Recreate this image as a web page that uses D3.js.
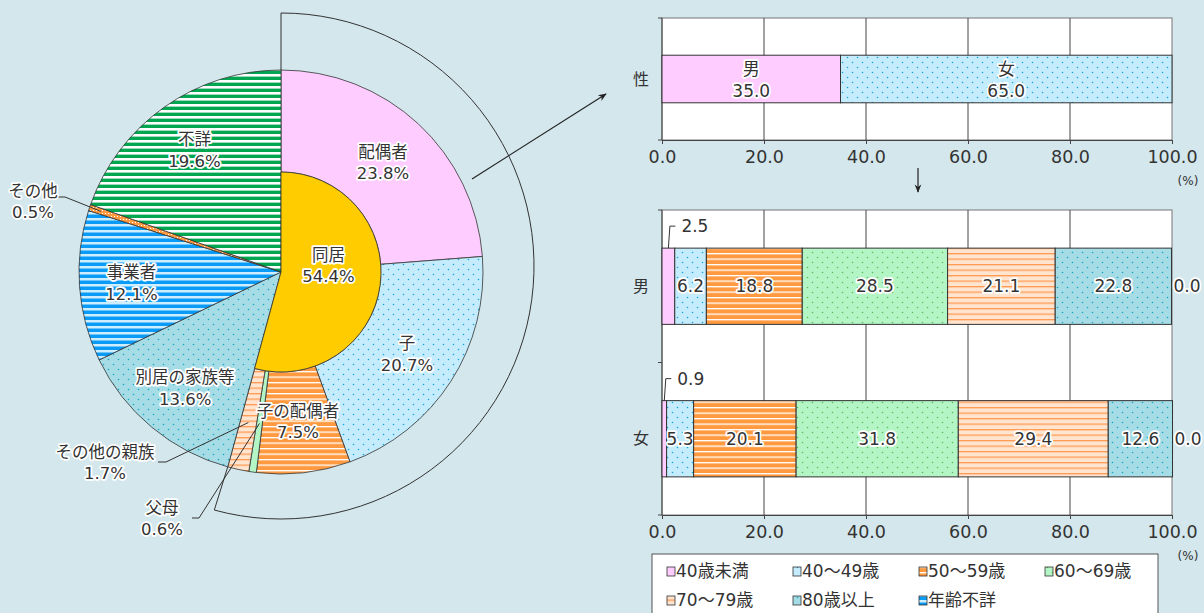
<!DOCTYPE html>
<html>
<head>
<meta charset="utf-8">
<script src="https://cdn.jsdelivr.net/npm/d3@7"></script>
<style>
body{margin:0;background:#d3e7ec;overflow:hidden;}
text{font-family:"DejaVu Sans","Noto Sans CJK JP",sans-serif;fill:#333;}
.halo{paint-order:stroke;stroke:#fff;stroke-width:3.5px;stroke-linejoin:round;}
</style>
</head>
<body>
<script>
// 主たる介護者の続柄
var pieLabels = ["配偶者","子","子の配偶者","父母","その他の親族","別居の家族等","事業者","その他","不詳"];
var pieValues = [23.8,20.7,7.5,0.6,1.7,13.6,12.1,0.5,19.6];
var pieFills  = ["pink","dotBlue","lineOrange","green","linePeach","dotTeal","lineBlue","hatchOrange","lineGreen"];
var livingLabel = "同居", livingValue = 54.4;
var livingCount = 5; // 最初の5区分が同居

// 性別
var sexLabels = ["男","女"];
var sexValues = [35.0,65.0];
var sexFills = ["pink","dotBlue"];

// 年齢
var ageLabels = ["40歳未満","40～49歳","50～59歳","60～69歳","70～79歳","80歳以上","年齢不詳"];
var ageFills = ["pink","dotBlue","lineOrange","dotGreen","linePeach","dotTeal","lineBlue"];
var maleAge   = [2.5,6.2,18.8,28.5,21.1,22.8,0.0];
var femaleAge = [0.9,5.3,20.1,31.8,29.4,12.6,0.0];
var xTicks = [0,20,40,60,80,100];

var width=1204, height=613;
var svg = d3.select("body").append("svg").attr("width",width).attr("height",height);
var defs = svg.append("defs");

function solid(id,c){
  var p=defs.append("pattern").attr("id",id).attr("patternUnits","userSpaceOnUse").attr("width",4).attr("height",4);
  p.append("rect").attr("width",4).attr("height",4).attr("fill",c);
}
function lines(id,bg,fg,period,lw){
  var p=defs.append("pattern").attr("id",id).attr("patternUnits","userSpaceOnUse").attr("width",10).attr("height",period);
  p.append("rect").attr("width",10).attr("height",period).attr("fill",bg);
  p.append("rect").attr("y",0).attr("width",10).attr("height",lw).attr("fill",fg);
}
function dots(id,bg,fg,s){
  var p=defs.append("pattern").attr("id",id).attr("patternUnits","userSpaceOnUse").attr("width",s).attr("height",s);
  p.append("rect").attr("width",s).attr("height",s).attr("fill",bg);
  p.append("circle").attr("cx",s/4).attr("cy",s/4).attr("r",0.8).attr("fill",fg);
  p.append("circle").attr("cx",s*3/4).attr("cy",s*3/4).attr("r",0.8).attr("fill",fg);
}
solid("pink","#ffccff");
solid("green","#b3f5c4");
dots("dotBlue","#c4ecfc","#1aa3dc",10);
dots("dotTeal","#a6dce5","#14a6c6",10);
dots("dotGreen","#b3f5c4","#5cbb5c",10);
lines("lineOrange","#ff9a40","#ffffff",5.5,1.3);
lines("linePeach","#ffe4cf","#ff9a52",5.5,1.3);
lines("lineBlue","#0a9bf6","#cdeeff",6,2.5);
lines("lineGreen","#00a650","#ffffff",6,2.6);
(function(){
  var p=defs.append("pattern").attr("id","hatchOrange").attr("patternUnits","userSpaceOnUse").attr("width",3).attr("height",3);
  p.append("rect").attr("width",3).attr("height",3).attr("fill","#ff9a40");
  p.append("rect").attr("x",1).attr("y",1).attr("width",1).attr("height",1).attr("fill","#fff");
})();

function label(g,x,y,lines_,size){
  var t=g.append("text").attr("class","halo").attr("x",x).attr("y",y)
    .attr("text-anchor","middle").style("font-size",(size||16.5)+"px");
  lines_.forEach(function(s,i){
    t.append("tspan").attr("x",x).attr("dy",i==0?"0.35em":"1.3em").text(s);
  });
  return t;
}

// ---------- pie ----------
var cx=281, cy=272, R=202, r0=100;
var pg = svg.append("g").attr("transform","translate("+cx+","+cy+")");
var pie = d3.pie().sort(null).value(function(d){return d;});
var arcs = pie(pieValues);
var livingEnd = arcs[livingCount-1].endAngle;

// 外側の括弧
var br=253, bdy=-6;
var bp=d3.path();
bp.moveTo(0,-R);
bp.lineTo(0,bdy-br);
bp.arc(0,bdy,br,-Math.PI/2,-Math.PI/2+livingEnd);
bp.lineTo(R*Math.sin(livingEnd),-R*Math.cos(livingEnd));
pg.append("path").attr("d",bp.toString()).attr("fill","none").attr("stroke","#333").attr("stroke-width",1);

var arcGen = d3.arc();
pg.selectAll("path.slice").data(arcs).enter().append("path").attr("class","slice")
  .attr("d",function(d,i){
    return arcGen({innerRadius:i<livingCount?r0:0,outerRadius:R,startAngle:d.startAngle,endAngle:d.endAngle});
  })
  .attr("fill",function(d,i){return "url(#"+pieFills[i]+")";})
  .attr("stroke","#333").attr("stroke-width",0.8);

pg.append("path")
  .attr("d",arcGen({innerRadius:0,outerRadius:r0,startAngle:0,endAngle:livingEnd}))
  .attr("fill","#ffcc00").attr("stroke","#333").attr("stroke-width",0.8);

function polar(a,r){return [r*Math.sin(a),-r*Math.cos(a)];}
var inner = [0,1,2,5,6,8];
inner.forEach(function(i){
  var a=(arcs[i].startAngle+arcs[i].endAngle)/2;
  var p=polar(a,150);
  label(pg,p[0],p[1]-10,[pieLabels[i],pieValues[i].toFixed(1)+"%"]);
});
var lp=polar(livingEnd/2-0.28,48);
label(pg,lp[0],lp[1]-10,[livingLabel,livingValue.toFixed(1)+"%"]);

// 引き出し線つきラベル
var outer = [
  {i:7, r:R-12, elbow:[-216,-75], end:[-223,-75], tx:-248, ty:-71},
  {i:4, r:154, elbow:[-115,190], end:[-123,190], tx:-176, ty:190},
  {i:3, r:153, elbow:[-82,246], end:[-89,246], tx:-119, ty:246}
];
outer.forEach(function(o){
  var a=(arcs[o.i].startAngle+arcs[o.i].endAngle)/2;
  var p=polar(a,o.r);
  pg.append("path").attr("d","M"+p[0]+","+p[1]+"L"+o.elbow[0]+","+o.elbow[1]+"L"+o.end[0]+","+o.end[1])
    .attr("fill","none").attr("stroke","#333").attr("stroke-width",1);
  label(pg,o.tx,o.ty-10,[pieLabels[o.i],pieValues[o.i].toFixed(1)+"%"]);
});

// 矢印
defs.append("marker").attr("id","arrow").attr("viewBox","0 0 10 10").attr("refX",9).attr("refY",5)
  .attr("markerWidth",7).attr("markerHeight",7).attr("orient","auto")
  .append("path").attr("d","M0,1L10,5L0,9L3,5Z").attr("fill","#222");
svg.append("line").attr("x1",472).attr("y1",179).attr("x2",606).attr("y2",94)
  .attr("stroke","#222").attr("stroke-width",1.2).attr("marker-end","url(#arrow)");

// ---------- bar charts ----------
var x = d3.scaleLinear().domain([0,100]).range([662,1172]);

function plotFrame(y,cats){
  var top=y.range()[0], bot=y.range()[1];
  var g=svg.append("g");
  g.append("rect").attr("x",x(0)).attr("y",top).attr("width",x(100)-x(0)).attr("height",bot-top)
    .attr("fill","#fff").attr("stroke","#777").attr("stroke-width",1);
  g.selectAll("line.grid").data(xTicks.slice(1,-1)).enter().append("line")
    .attr("x1",function(d){return x(d);}).attr("x2",function(d){return x(d);})
    .attr("y1",top).attr("y2",bot).attr("stroke","#444").attr("stroke-width",1);
  var edges=[top].concat(cats.map(function(c){return y(c)+y.bandwidth();}));
  g.append("line").attr("x1",x(0)).attr("x2",x(0)).attr("y1",top).attr("y2",bot).attr("stroke","#444");
  g.selectAll("line.ytick").data(edges).enter().append("line")
    .attr("x1",x(0)-4).attr("x2",x(0)).attr("y1",function(d){return d;}).attr("y2",function(d){return d;})
    .attr("stroke","#444");
  g.selectAll("text.cat").data(cats).enter().append("text")
    .attr("x",641).attr("y",function(d){return y(d)+y.bandwidth()/2;}).attr("dy","0.35em")
    .attr("text-anchor","middle").style("font-size","16px").text(function(d){return d;});
  var ax=g.append("g").attr("transform","translate(0,"+bot+")")
    .call(d3.axisBottom(x).tickValues(xTicks).tickFormat(d3.format(".1f")).tickSize(4).tickPadding(7));
  ax.select(".domain").attr("stroke","#444");
  ax.selectAll(".tick line").attr("stroke","#444");
  ax.selectAll("text").style("font-size","17.5px").attr("fill","#333")
    .style("font-family","'DejaVu Sans',sans-serif");
  g.append("text").attr("x",1188).attr("y",bot+45).attr("text-anchor","middle")
    .style("font-size","12px").text("(%)");
}

// 性
var y1 = d3.scaleBand().domain(["性"]).range([18,140]);
plotFrame(y1,["性"]);
var h1 = y1.bandwidth()*0.39, t1 = y1("性")+(y1.bandwidth()-h1)/2;
var cum=0;
sexValues.forEach(function(v,i){
  var x0=x(cum); cum+=v;
  svg.append("rect").attr("x",x0).attr("y",t1).attr("width",x(cum)-x0).attr("height",h1)
    .attr("fill","url(#"+sexFills[i]+")").attr("stroke","#333").attr("stroke-width",1);
  label(svg,(x0+x(cum))/2,t1+h1/2-10,[sexLabels[i],v.toFixed(1)],17);
});

// 下向き矢印
svg.append("line").attr("x1",918).attr("y1",168).attr("x2",918).attr("y2",192)
  .attr("stroke","#222").attr("stroke-width",1.2).attr("marker-end","url(#arrow)");

// 年齢
var y2 = d3.scaleBand().domain(sexLabels).range([210,515]);
plotFrame(y2,sexLabels);
var h2 = y2.bandwidth()*0.5;
[maleAge,femaleAge].forEach(function(vals,r){
  var top=y2(sexLabels[r])+(y2.bandwidth()-h2)/2, c=0;
  vals.forEach(function(v,i){
    var x0=x(c); c+=v;
    var x1=x(c), mid=(x0+x1)/2, ym=top+h2/2;
    svg.append("rect").attr("x",x0).attr("y",top).attr("width",Math.max(0,x1-x0)).attr("height",h2)
      .attr("fill","url(#"+ageFills[i]+")").attr("stroke","#333").attr("stroke-width",1);
    if(i==0){
      svg.append("path").attr("d","M"+mid+","+top+"L"+(mid+1.5)+","+(top-22)+"L"+(mid+7)+","+(top-22))
        .attr("fill","none").attr("stroke","#333");
      svg.append("text").attr("class","halo").attr("x",mid+13).attr("y",top-22).attr("dy","0.35em")
        .style("font-size","17px").text(v.toFixed(1));
    } else if(v==0){
      svg.append("text").attr("class","halo").attr("x",x1+2).attr("y",ym).attr("dy","0.35em")
        .style("font-size","17px").text(v.toFixed(1));
    } else {
      svg.append("text").attr("class","halo").attr("x",mid).attr("y",ym).attr("dy","0.35em")
        .attr("text-anchor","middle").style("font-size","17px").text(v.toFixed(1));
    }
  });
});

// 凡例
var lg=svg.append("g");
lg.append("rect").attr("x",652).attr("y",554).attr("width",506).attr("height",80)
  .attr("fill","#fff").attr("stroke","#555");
ageLabels.forEach(function(s,i){
  var lx=675+(i%4)*126, ly=571+Math.floor(i/4)*29;
  lg.append("rect").attr("x",lx-8).attr("y",ly-4).attr("width",8).attr("height",9)
    .attr("fill","url(#"+ageFills[i]+")").attr("stroke","#333").attr("stroke-width",0.8);
  lg.append("text").attr("x",lx+1).attr("y",ly).attr("dy","0.35em").style("font-size","17px").text(s);
});
</script>
</body>
</html>
